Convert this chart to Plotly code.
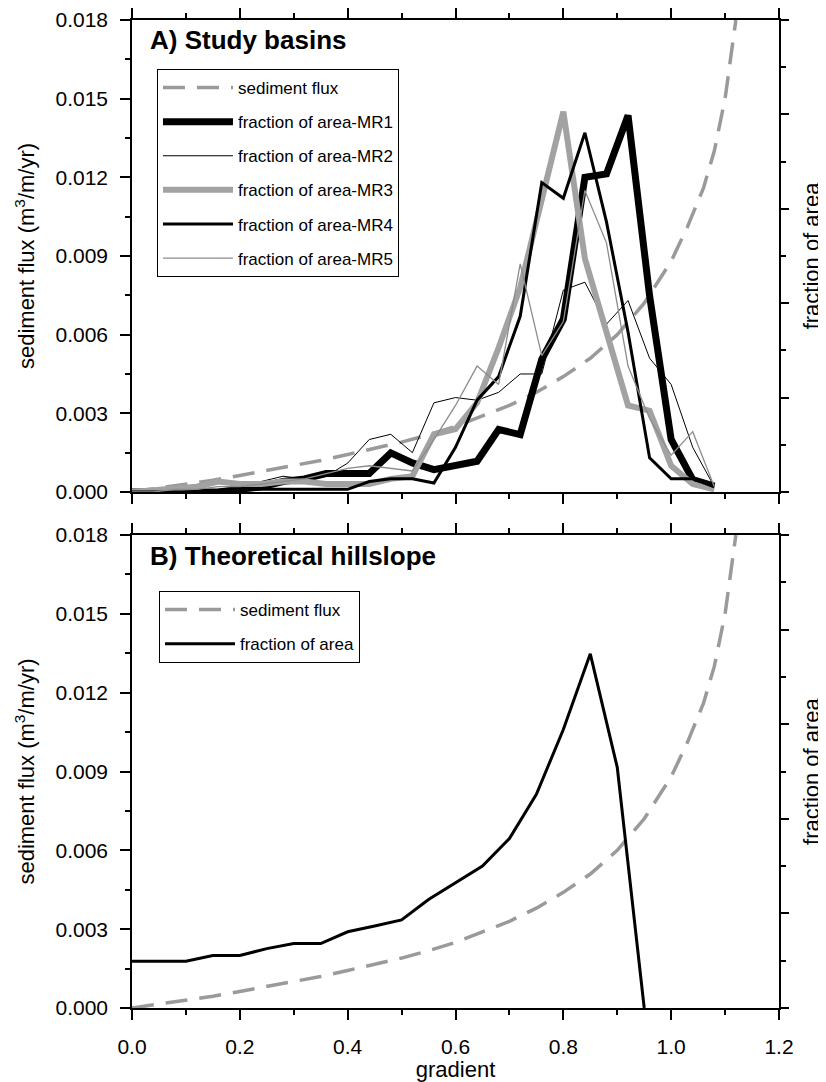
import plotly.graph_objects as go

# ---------------- data ----------------
# sediment flux curve (same in both panels)
flux_x = [0, .05, .1, .15, .2, .25, .3, .35, .4, .45, .5, .55, .6, .65, .7, .75, .8, .85, .9, .95, 1.0, 1.03, 1.06, 1.08, 1.1, 1.12]
flux_y = [0, .00014, .00029, .00045, .00063, .00081, .001, .0012, .00143, .00165, .0019, .00218, .0025, .0029, .0033,
          .0038, .0044, .0051, .006, .0072, .0088, .0101, .0116, .0130, .0150, .0180]

# panel A: study basins, gradient bins of 0.04
grad_a = [0, .04, .08, .12, .16, .2, .24, .28, .32, .36, .4, .44, .48, .52, .56, .6, .64, .68, .72, .76,
          .8, .84, .88, .92, .96, 1.0, 1.04, 1.08]
mr1 = [0, 0, 0, 0, 0, 0.0001, 0.0002, 0.0004, 0.0005, 0.0007, 0.0007, 0.0007, 0.00149, 0.00111, 0.00085, 0.00104,
       0.00117, 0.00238, 0.00219, 0.00506, 0.00659, 0.0120, 0.01213, 0.01436, 0.00748, 0.0020, 0.00047, 0.00022]
mr2 = [0, 0, 0, 0, 0.0001, 0.0002, 0.0004, 0.0006, 0.0005, 0.0006, 0.0011, 0.0020, 0.0022, 0.0015, 0.0034, 0.0036,
       0.0035, 0.0038, 0.0045, 0.0045, 0.0077, 0.0080, 0.0064, 0.0073, 0.0051, 0.0041, 0.0017, 0.0002]
mr3 = [0, 0.00005, 0.0001, 0.0002, 0.0004, 0.0003, 0.0003, 0.0004, 0.0004, 0.0003, 0.0003, 0.0003, 0.0005, 0.0006,
       0.0022, 0.0024, 0.0034, 0.0055, 0.0078, 0.0112, 0.0145, 0.0089, 0.0061, 0.0033, 0.0031, 0.0010, 0.0003, 0.0001]
mr4 = [0, 0, 0, 0, 0, 0.0001, 0.0001, 0.0001, 0.0001, 0.0001, 0.0001, 0.0004, 0.0005, 0.0005, 0.00034, 0.0017,
       0.0035, 0.0044, 0.0067, 0.0118, 0.0112, 0.0137, 0.0103, 0.0061, 0.0013, 0.0005, 0.0005, 0.0002]
mr5 = [0, 0, 0.0001, 0.0001, 0.0002, 0.0002, 0.0003, 0.0004, 0.0005, 0.0007, 0.0009, 0.0010, 0.0009, 0.0008,
       0.0020, 0.0033, 0.0048, 0.0041, 0.0087, 0.0052, 0.0065, 0.0115, 0.0095, 0.0048, 0.0028, 0.0014, 0.0023, 0.0002]

# panel B: theoretical hillslope
grad_b = [0, .05, .1, .15, .2, .25, .3, .35, .4, .45, .5, .55, .6, .65, .7, .75, .8, .85, .9, .95]
area_b = [0.00178, 0.00178, 0.00178, 0.0020, 0.0020, 0.00226, 0.00245, 0.00245, 0.0029, 0.00312, 0.00335,
          0.00413, 0.00477, 0.0054, 0.00645, 0.00813, 0.0106, 0.01348, 0.00916, 0.0]

x_ticks = [0.0, 0.2, 0.4, 0.6, 0.8, 1.0, 1.2]
y_ticks = [0.000, 0.003, 0.006, 0.009, 0.012, 0.015, 0.018]

title_a = "A) Study basins"
title_b = "B) Theoretical hillslope"

# ---------------- styles ----------------
GREY_D = "#9a9a9a"
GREY_T = "#a2a2a2"
GREY_L = "#8c8c8c"
FLUX_DASH = "22px,12px"

fig = go.Figure()

# Panel A
fig.add_trace(go.Scatter(x=flux_x, y=flux_y, mode="lines", name="sediment flux",
                         line=dict(color=GREY_D, width=3.5, dash=FLUX_DASH),
                         xaxis="x", yaxis="y", legend="legend", legendgroup="a0"))
fig.add_trace(go.Scatter(x=grad_a, y=mr1, mode="lines", name="fraction of area-MR1",
                         line=dict(color="black", width=7),
                         xaxis="x", yaxis="y", legend="legend", legendgroup="a1"))
fig.add_trace(go.Scatter(x=grad_a, y=mr2, mode="lines", name="fraction of area-MR2",
                         line=dict(color="black", width=1),
                         xaxis="x", yaxis="y", legend="legend", legendgroup="a2"))
fig.add_trace(go.Scatter(x=grad_a, y=mr3, mode="lines", name="fraction of area-MR3",
                         line=dict(color=GREY_T, width=6),
                         xaxis="x", yaxis="y", legend="legend", legendgroup="a3"))
fig.add_trace(go.Scatter(x=grad_a, y=mr4, mode="lines", name="fraction of area-MR4",
                         line=dict(color="black", width=3),
                         xaxis="x", yaxis="y", legend="legend", legendgroup="a4"))
fig.add_trace(go.Scatter(x=grad_a, y=mr5, mode="lines", name="fraction of area-MR5",
                         line=dict(color=GREY_L, width=1.3),
                         xaxis="x", yaxis="y", legend="legend", legendgroup="a5"))

# Panel B
fig.add_trace(go.Scatter(x=flux_x, y=flux_y, mode="lines", name="sediment flux",
                         line=dict(color=GREY_D, width=3.5, dash=FLUX_DASH),
                         xaxis="x2", yaxis="y2", legend="legend2", legendgroup="b0"))
fig.add_trace(go.Scatter(x=grad_b, y=area_b, mode="lines", name="fraction of area",
                         line=dict(color="black", width=3),
                         xaxis="x2", yaxis="y2", legend="legend2", legendgroup="b1"))

# empty traces so the right-hand axes exist
fig.add_trace(go.Scatter(x=[], y=[], xaxis="x", yaxis="y3", showlegend=False, hoverinfo="skip"))
fig.add_trace(go.Scatter(x=[], y=[], xaxis="x2", yaxis="y4", showlegend=False, hoverinfo="skip"))

FONT = "Liberation Sans, Arial, Helvetica, sans-serif"

def xaxis(show_labels, anchor):
    d = dict(range=[0, 1.2], tickvals=x_ticks, tickformat=".1f", ticks="outside", ticklen=10, tickwidth=1.5,
             tickcolor="black", showline=True, linecolor="black", linewidth=1.5, mirror="ticks",
             showgrid=False, zeroline=False, showticklabels=show_labels, anchor=anchor, automargin=False,
             tickfont=dict(size=21, color="black"), ticklabelstandoff=9,
             minor=dict(dtick=0.1, ticks="outside", ticklen=5, tickwidth=1.5, tickcolor="black", showgrid=False))
    return d

def yaxis(domain, anchor):
    return dict(domain=domain, range=[0, 0.018], tickvals=y_ticks, tickformat=".3f", ticks="outside", ticklen=10,
                tickwidth=1.5, tickcolor="black", showline=True, linecolor="black", linewidth=1.5,
                showgrid=False, zeroline=False, anchor=anchor, ticklabelstandoff=8, automargin=False,
                tickfont=dict(size=21, color="black"),
                title=dict(text="sediment flux (m<sup>3</sup>/m/yr)", font=dict(size=22, color="black"), standoff=15),
                minor=dict(dtick=0.0015, ticks="outside", ticklen=5, tickwidth=1.5, tickcolor="black", showgrid=False))

def raxis(overlay, anchor):
    return dict(overlaying=overlay, side="right", anchor=anchor, range=[0, 0.5], dtick=0.1, ticks="outside",
                ticklen=8, tickwidth=1.5, tickcolor="black", showline=True, linecolor="black", linewidth=1.5,
                showticklabels=False, showgrid=False, zeroline=False, automargin=False,
                title=dict(text="fraction of area", font=dict(size=22, color="black"), standoff=16),
                minor=dict(dtick=0.05, ticks="outside", ticklen=5, tickwidth=1.5, tickcolor="black", showgrid=False))

dom_a = [0.5223, 1.0]
dom_b = [0.0, 0.4787]

xa2 = xaxis(True, "y2")
xa2["title"] = dict(text="gradient", font=dict(size=22, color="black"), standoff=2)

legend_common = dict(bgcolor="white", bordercolor="black", borderwidth=1, font=dict(size=17, color="black"),
                     xanchor="left", yanchor="top", itemwidth=70, tracegroupgap=9, traceorder="grouped")

# the page body adds an 8px offset, so the figure is 8px smaller than the window
fig.update_layout(
    width=818, height=1074,
    margin=dict(l=124, r=47, t=11.5, b=74, autoexpand=False),
    paper_bgcolor="white", plot_bgcolor="white",
    font=dict(family=FONT, color="black"),
    xaxis=xaxis(False, "y"),
    yaxis=yaxis(dom_a, "x"),
    xaxis2=xa2,
    yaxis2=yaxis(dom_b, "x2"),
    yaxis3=raxis("y", "x"),
    yaxis4=raxis("y2", "x2"),
    legend=dict(x=0.0386, y=0.9504, **legend_common),
    legend2=dict(x=0.0417, y=0.422, **legend_common),
    annotations=[
        dict(text="<b>" + title_a + "</b>", xref="x domain", yref="y domain", x=0.024, y=0.958,
             xanchor="left", yanchor="middle", showarrow=False, font=dict(size=26, color="black")),
        dict(text="<b>" + title_b + "</b>", xref="x2 domain", yref="y2 domain", x=0.024, y=0.956,
             xanchor="left", yanchor="middle", showarrow=False, font=dict(size=26, color="black")),
    ],
    showlegend=True,
)

fig.write_html("out.html")
